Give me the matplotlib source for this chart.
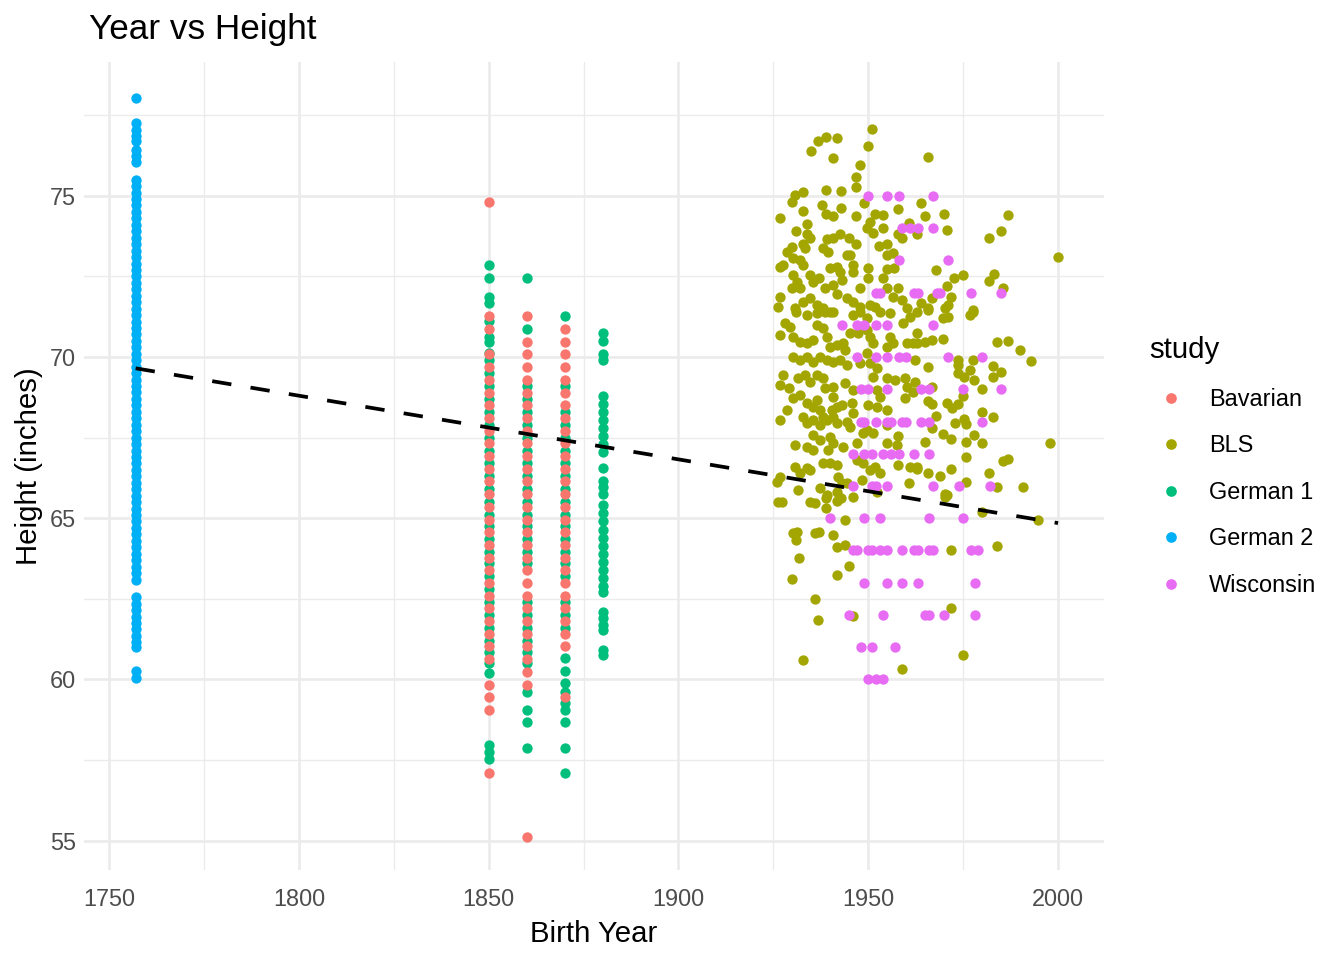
import matplotlib
matplotlib.use("Agg")
import matplotlib.pyplot as plt
import numpy as np

# ggplot default hue palette for 5 groups
COLORS = {
    "Bavarian": "#F8766D",
    "BLS": "#A3A500",
    "German 1": "#00BF7D",
    "German 2": "#00B0F6",
    "Wisconsin": "#E76BF3",
}

# --- German 2: everyone born 1757, heights in inches
german2_year = 1757
german2_height = [78.02, 77.25, 77.05, 76.85, 76.7, 76.42, 76.25, 76.06,
                  75.5, 75.3, 75.1, 74.9, 74.7, 74.5, 74.3, 74.1, 73.9, 73.7,
                  73.5, 73.3, 73.1, 72.9, 72.7, 72.5, 72.3, 72.1, 71.9, 71.7,
                  71.5, 71.3, 71.1, 70.9, 70.7, 70.5, 70.3, 70.1, 69.9, 69.7,
                  69.5, 69.3, 69.1, 68.9, 68.7, 68.5, 68.3, 68.1, 67.9, 67.7,
                  67.5, 67.3, 67.1, 66.9, 66.7, 66.5, 66.3, 66.1, 65.9, 65.7,
                  65.5, 65.3, 65.1, 64.9, 64.7, 64.5, 64.3, 64.1, 63.9, 63.7,
                  63.5, 63.3, 63.08,
                  62.57, 62.35, 62.15, 61.95, 61.75, 61.55, 61.35, 61.15, 61.0,
                  60.25, 60.03]

# --- German 1: inches, by birth cohort
german1_1850 = [72.86, 72.45, 71.85, 71.66, 71.11, 70.63, 70.48, 70.12, 69.91,
                69.5, 69.1, 68.7, 68.3, 67.9, 67.5, 67.1, 66.7, 66.3, 65.9,
                65.5, 65.1, 64.75, 64.35, 63.95, 63.6, 63.2, 62.8, 62.4, 62.0,
                61.6, 61.2, 60.85, 60.5, 60.2, 57.97, 57.76, 57.53]
german1_1860 = [72.45, 70.88, 69.1, 68.7, 68.3, 67.9, 67.5, 67.1, 66.7, 66.3,
                65.9, 65.5, 65.1, 64.75, 64.35, 63.95, 63.6, 62.4, 62.0, 61.6,
                61.2, 60.85, 60.5, 59.62, 59.05, 58.68, 57.88]
german1_1870 = [71.27, 69.1, 68.3, 67.9, 67.5, 67.1, 66.7, 66.3, 65.9, 65.5,
                65.1, 64.75, 64.35, 63.95, 63.6, 63.2, 62.4, 62.0, 61.6, 60.65,
                60.27, 59.88, 59.62, 59.26, 59.05, 58.68, 57.88, 57.11]
german1_1880 = [70.73, 70.51, 70.09, 69.91, 68.78, 68.55, 68.3, 68.05, 67.8,
                67.55, 67.3, 67.05, 66.57, 66.17, 65.98, 65.75, 65.41, 65.15,
                64.9, 64.65, 64.4, 64.15, 63.9, 63.65, 63.4, 63.15, 62.9, 62.7,
                62.1, 61.9, 61.7, 61.54, 60.92, 60.76]

# --- Bavarian: recorded in whole centimetres
bavarian_1850_cm = [145, 150, 151, 152, 154, 155, 156, 157, 158, 159, 160, 161,
                    162, 163, 164, 165, 166, 167, 168, 169, 170, 171, 172, 173,
                    174, 175, 176, 177, 178, 180, 181, 190]
bavarian_1860_cm = [140, 152, 153, 154, 155, 156, 157, 158, 159, 160, 161, 162,
                    163, 164, 165, 166, 167, 168, 169, 170, 171, 172, 173, 174,
                    175, 176, 177, 178, 179, 181]
bavarian_1870_cm = [151, 155, 156, 157, 158, 159, 160, 161, 162, 163, 164, 165,
                    166, 167, 168, 169, 170, 171, 172, 173, 174, 175, 176, 177,
                    178, 179, 180]

# --- BLS: (birth year, height in inches)
bls_points = [
    (1950.9, 77.07), (1938.9, 76.82), (1941.7, 76.80), (1936.7, 76.69), (1934.8, 76.38),
    (1949.9, 76.54), (1940.8, 76.18), (1947.7, 75.97), (1946.7, 75.59), (1946.7, 75.28),
    (1938.9, 75.17), (1942.7, 75.14), (1932.9, 75.12), (1930.7, 75.02), (1929.8, 74.81),
    (1948.9, 74.78), (1937.7, 74.73), (1942.7, 74.63), (1932.7, 74.52), (1926.8, 74.32),
    (1938.9, 74.43), (1940.8, 74.38), (1946.7, 74.38), (1957.8, 74.59), (1951.8, 74.45),
    (1954.0, 74.40), (1950.5, 74.19), (1949.6, 74.01), (1951.3, 73.86), (1933.8, 74.13),
    (1930.9, 73.90), (1953.8, 74.01), (1933.8, 73.80), (1934.7, 73.68), (1932.9, 73.52),
    (1933.3, 73.37), (1942.6, 73.83), (1940.8, 73.70), (1939.1, 73.66), (1938.2, 73.37),
    (1939.5, 73.26), (1944.8, 73.68), (1946.8, 73.49), (1929.8, 73.42), (1928.5, 73.26),
    (1930.3, 73.06), (1952.7, 73.45), (1954.9, 73.52), (1957.9, 73.83), (1958.8, 73.70),
    (1960.8, 74.17), (1962.8, 73.83), (1954.9, 73.16), (1956.6, 73.24), (1944.3, 73.16),
    (1945.2, 73.16), (1932.0, 73.00), (1932.9, 72.85), (1926.8, 72.80), (1927.6, 72.85),
    (1939.9, 72.75), (1941.7, 72.80), (1942.6, 72.64), (1943.0, 72.38), (1945.9, 72.85),
    (1946.1, 72.64), (1949.9, 72.77), (1949.9, 72.44), (1954.9, 72.72), (1956.8, 72.75),
    (1953.8, 72.44), (1930.3, 72.54), (1931.2, 72.33), (1929.8, 72.13), (1932.0, 72.13),
    (1934.7, 72.54), (1935.5, 72.33), (1936.9, 72.44), (1938.6, 72.13), (1940.8, 72.23),
    (1941.7, 71.97), (1947.8, 72.13), (1926.8, 71.87), (1926.3, 71.56), (1930.7, 71.51),
    (1932.9, 71.71), (1934.7, 71.82), (1936.4, 71.61), (1944.3, 71.82), (1946.1, 71.71),
    (1947.8, 71.56), (1950.5, 71.61), (1951.8, 71.56), (1954.9, 72.13), (1956.6, 71.87),
    (1957.9, 72.13), (1958.8, 71.76), (1960.1, 71.51), (1962.8, 71.40), (1938.2, 71.51),
    (1939.9, 71.40),
    (1931.0, 71.41), (1933.8, 71.30), (1936.4, 71.35), (1938.6, 71.41), (1940.8, 71.41),
    (1946.1, 71.30), (1947.8, 71.41), (1949.6, 71.20), (1953.1, 71.41), (1955.7, 71.35),
    (1959.2, 71.04), (1961.0, 71.25), (1962.8, 70.73), (1928.1, 71.04), (1926.8, 70.68),
    (1929.4, 70.94), (1930.3, 70.63), (1932.0, 70.48), (1933.8, 70.42), (1935.5, 70.53),
    (1936.4, 71.00), (1938.2, 70.89), (1939.1, 70.63), (1939.9, 70.32), (1941.7, 70.37),
    (1943.4, 70.42), (1943.9, 70.22), (1945.2, 70.73), (1947.4, 70.73), (1949.6, 70.84),
    (1950.5, 70.63), (1951.3, 70.42), (1955.7, 70.63), (1956.6, 70.42), (1954.9, 70.32),
    (1960.1, 70.42), (1961.9, 70.42),
    (1930.3, 70.01), (1932.0, 69.91), (1933.8, 70.01), (1935.5, 69.86), (1937.3, 70.01),
    (1939.1, 69.91), (1940.8, 69.86), (1942.6, 69.91), (1944.3, 69.75), (1947.8, 69.80),
    (1949.6, 70.11), (1950.5, 69.80), (1952.2, 69.65),
    (1927.6, 69.44), (1926.8, 69.13), (1929.0, 69.03), (1931.6, 69.34), (1933.3, 69.44),
    (1934.7, 69.24), (1936.4, 69.44), (1938.2, 69.34), (1938.6, 69.03), (1940.8, 69.08),
    (1943.9, 69.18), (1946.1, 68.98), (1951.3, 69.39), (1952.2, 68.98), (1953.1, 68.77),
    (1954.9, 69.34), (1957.1, 69.29), (1959.7, 69.34), (1960.1, 69.08), (1961.9, 68.92),
    (1959.7, 68.72),
    (1930.3, 68.72), (1932.0, 68.82), (1933.8, 68.56), (1936.4, 68.67), (1935.5, 68.46),
    (1937.3, 68.36), (1928.5, 68.36), (1926.8, 68.05), (1940.8, 68.77), (1940.4, 68.36),
    (1941.7, 68.46), (1943.0, 68.51), (1945.6, 68.56), (1950.0, 68.51), (1952.2, 68.46),
    (1954.9, 68.36),
    (1932.9, 68.15), (1933.8, 67.94), (1935.5, 68.05), (1938.2, 68.15), (1937.3, 67.89),
    (1939.1, 68.05), (1940.8, 68.15), (1941.7, 67.94), (1944.3, 67.99), (1945.2, 67.84),
    (1946.1, 68.25), (1949.6, 67.74), (1948.7, 67.63), (1951.3, 67.63), (1954.9, 67.89),
    (1935.5, 67.58), (1937.3, 67.43), (1939.9, 67.53), (1939.5, 67.12), (1940.8, 67.32),
    (1943.4, 67.22), (1930.7, 67.27), (1933.8, 67.22), (1935.5, 67.12), (1947.0, 67.32),
    (1947.0, 66.81), (1948.7, 66.70), (1950.5, 66.50), (1957.9, 67.55), (1954.9, 67.32),
    (1957.5, 67.27),
    (1930.7, 66.60), (1933.8, 66.55), (1932.0, 66.39), (1934.7, 66.50), (1938.2, 66.70),
    (1939.9, 66.70), (1941.7, 66.65), (1942.1, 66.29), (1943.0, 66.08), (1941.7, 65.82),
    (1926.8, 66.29), (1925.9, 66.13), (1931.6, 65.88), (1937.3, 65.93), (1939.1, 65.72),
    (1944.3, 66.08), (1948.3, 66.19), (1951.8, 66.60), (1953.1, 66.39), (1952.2, 65.82),
    (1957.9, 66.65), (1961.0, 66.60), (1960.6, 66.08), (1962.8, 66.60),
    (1927.2, 65.51), (1926.3, 65.51), (1934.7, 65.51), (1936.0, 65.46), (1938.9, 65.62),
    (1938.9, 65.33), (1941.7, 65.54), (1942.7, 65.64), (1945.9, 65.67), (1943.9, 64.95),
    (1930.3, 64.53), (1931.0, 64.33), (1931.2, 64.56), (1936.0, 64.53), (1936.9, 64.56),
    (1940.8, 64.48), (1941.7, 64.12), (1943.9, 64.17), (1931.8, 63.78), (1944.9, 63.53),
    (1941.7, 63.24), (1929.8, 63.12), (1936.0, 62.50), (1946.1, 61.98), (1936.8, 61.85),
    (1932.7, 60.60), (1958.9, 60.33),
    (1965.7, 76.20), (1963.9, 74.79), (1965.0, 74.38), (1970.0, 74.43), (1986.7, 74.40),
    (1970.7, 73.93), (1985.0, 73.90), (1981.8, 73.70), (2000.0, 73.11), (1967.8, 72.69),
    (1970.7, 72.21), (1972.7, 72.46), (1974.9, 72.54), (1981.8, 72.36), (1983.0, 72.56),
    (1985.6, 72.13), (1963.9, 71.69), (1965.8, 71.51), (1966.7, 71.82), (1971.7, 71.87),
    (1970.2, 71.53), (1971.1, 71.61), (1977.7, 71.47),
    (1965.8, 71.46), (1969.8, 71.20), (1971.1, 71.25), (1976.8, 71.30), (1977.7, 71.41),
    (1962.8, 70.42), (1965.0, 70.48), (1966.7, 70.53), (1969.8, 70.55), (1983.8, 70.48),
    (1986.7, 70.51), (1990.0, 70.22), (1992.9, 69.88), (1962.3, 69.91), (1965.7, 69.70),
    (1973.7, 69.91), (1973.7, 69.75), (1973.7, 69.51), (1975.1, 69.39), (1977.7, 69.91),
    (1976.8, 69.60), (1977.8, 69.29), (1982.8, 69.72), (1985.0, 69.54), (1982.8, 69.39),
    (1979.9, 69.01), (1962.3, 69.23), (1966.7, 69.08), (1974.9, 68.79), (1965.7, 68.65),
    (1966.7, 68.54), (1970.7, 68.56), (1972.0, 68.41), (1973.7, 68.54), (1979.9, 68.30),
    (1982.8, 68.15), (1967.8, 68.17), (1966.7, 67.79), (1972.9, 67.96), (1975.1, 68.07),
    (1975.8, 67.92), (1969.8, 67.60), (1971.7, 67.45), (1977.8, 67.58), (1965.0, 67.35),
    (1975.8, 67.37), (1979.9, 67.32), (1997.9, 67.34), (1975.8, 66.89), (1985.6, 66.79),
    (1986.9, 66.83), (1962.8, 66.53), (1965.7, 66.39), (1968.9, 66.32), (1971.7, 66.53),
    (1981.8, 66.39), (1975.8, 66.13), (1983.8, 65.96), (1990.7, 65.96), (1970.2, 65.75),
    (1970.7, 65.72),
    (1970.2, 65.67), (1979.9, 65.20), (1994.8, 64.93), (1971.8, 64.02), (1983.8, 64.15),
    (1971.8, 62.23), (1974.9, 60.76),
]

# --- Wisconsin: whole inches, listed by height
wisconsin_rows = {
    75: [1950, 1955, 1958, 1967],
    74: [1959, 1961, 1963, 1967],
    73: [1958, 1971],
    72: [1952, 1953, 1962, 1963, 1968, 1969, 1977, 1985],
    71: [1943, 1947, 1949, 1952, 1955, 1967],
    70: [1947, 1952, 1955, 1958, 1960, 1971, 1980],
    69: [1948, 1950, 1955, 1964, 1966, 1975, 1985],
    68: [1948, 1949, 1952, 1955, 1956, 1959, 1960, 1964, 1966, 1980],
    67: [1946, 1949, 1951, 1954, 1956, 1958, 1962, 1966],
    66: [1946, 1951, 1952, 1955, 1967, 1974, 1982],
    65: [1940, 1949, 1953, 1966, 1975],
    64: [1946, 1947, 1950, 1951, 1953, 1955, 1959, 1962, 1963, 1966, 1967, 1977, 1979],
    63: [1949, 1955, 1959, 1963, 1978],
    62: [1945, 1954, 1965, 1966, 1970, 1978],
    61: [1948, 1951, 1957],
    60: [1950, 1952, 1954],
}

# dashed overall trend
trend_year = [1757, 2000]
trend_height = [69.65, 64.85]

study_order = ["Bavarian", "BLS", "German 1", "German 2", "Wisconsin"]


def build_series():
    series = {}
    series["German 2"] = (np.full(len(german2_height), german2_year), np.array(german2_height))

    g1_x, g1_y = [], []
    for yr, vals in [(1850, german1_1850), (1860, german1_1860),
                     (1870, german1_1870), (1880, german1_1880)]:
        g1_x += [yr] * len(vals)
        g1_y += vals
    series["German 1"] = (np.array(g1_x), np.array(g1_y))

    bv_x, bv_y = [], []
    for yr, vals in [(1850, bavarian_1850_cm), (1860, bavarian_1860_cm),
                     (1870, bavarian_1870_cm)]:
        bv_x += [yr] * len(vals)
        bv_y += [v / 2.54 for v in vals]
    series["Bavarian"] = (np.array(bv_x), np.array(bv_y))

    bls = np.array(bls_points)
    series["BLS"] = (bls[:, 0], bls[:, 1])

    wi_x, wi_y = [], []
    for h, yrs in wisconsin_rows.items():
        wi_x += yrs
        wi_y += [h] * len(yrs)
    series["Wisconsin"] = (np.array(wi_x), np.array(wi_y))
    return series


plt.rcParams["font.family"] = ["Liberation Sans", "DejaVu Sans"]

fig = plt.figure(figsize=(7, 5), dpi=192)
ax = fig.add_axes([84 / 1344, 90 / 960, 1020 / 1344, 808 / 960])

series = build_series()
# draw order: German columns first, Bavarian on top of German 1, Wisconsin over BLS
for name in ["German 2", "German 1", "Bavarian", "BLS", "Wisconsin"]:
    x, y = series[name]
    ax.scatter(x, y, s=15, color=COLORS[name], linewidths=0, zorder=3)

ax.plot(trend_year, trend_height, color="black", lw=1.4,
        linestyle=(0, (5.2, 5.2)), zorder=4)

ax.set_xlim(1743.4, 2012.1)
ax.set_ylim(54.09, 79.15)
ax.set_xticks([1750, 1800, 1850, 1900, 1950, 2000])
ax.set_yticks([55, 60, 65, 70, 75])
ax.set_xticks([1775, 1825, 1875, 1925, 1975], minor=True)
ax.set_yticks([57.5, 62.5, 67.5, 72.5, 77.5], minor=True)
ax.grid(which="major", color="#EBEBEB", lw=1.0, zorder=0)
ax.grid(which="minor", color="#EBEBEB", lw=0.5, zorder=0)
ax.set_axisbelow(True)
for sp in ax.spines.values():
    sp.set_visible(False)
ax.tick_params(which="both", length=0, labelsize=8.8, labelcolor="#4D4D4D")
ax.tick_params(axis="x", pad=6.8)
ax.tick_params(axis="y", pad=3)

ax.set_xlabel("Birth Year", fontsize=11, labelpad=3.5)
ax.set_ylabel("Height (inches)", fontsize=11, labelpad=2.5)
fig.text(89 / 1344, 1 - 30 / 960, "Year vs Height", fontsize=13.2,
         ha="left", va="center")

handles = [plt.Line2D([], [], ls="", marker="o", ms=4, mew=0, color=COLORS[n])
           for n in study_order]
fig.legend(handles, study_order,
           title="study", loc="upper left", bbox_to_anchor=(1133 / 1344, 1 - 320 / 960),
           frameon=False, fontsize=8.8, title_fontsize=11, handlelength=1.8,
           handletextpad=0.75, labelspacing=1.0, alignment="left",
           borderpad=0.2)

fig.savefig("out.png", dpi=192, facecolor="white")
